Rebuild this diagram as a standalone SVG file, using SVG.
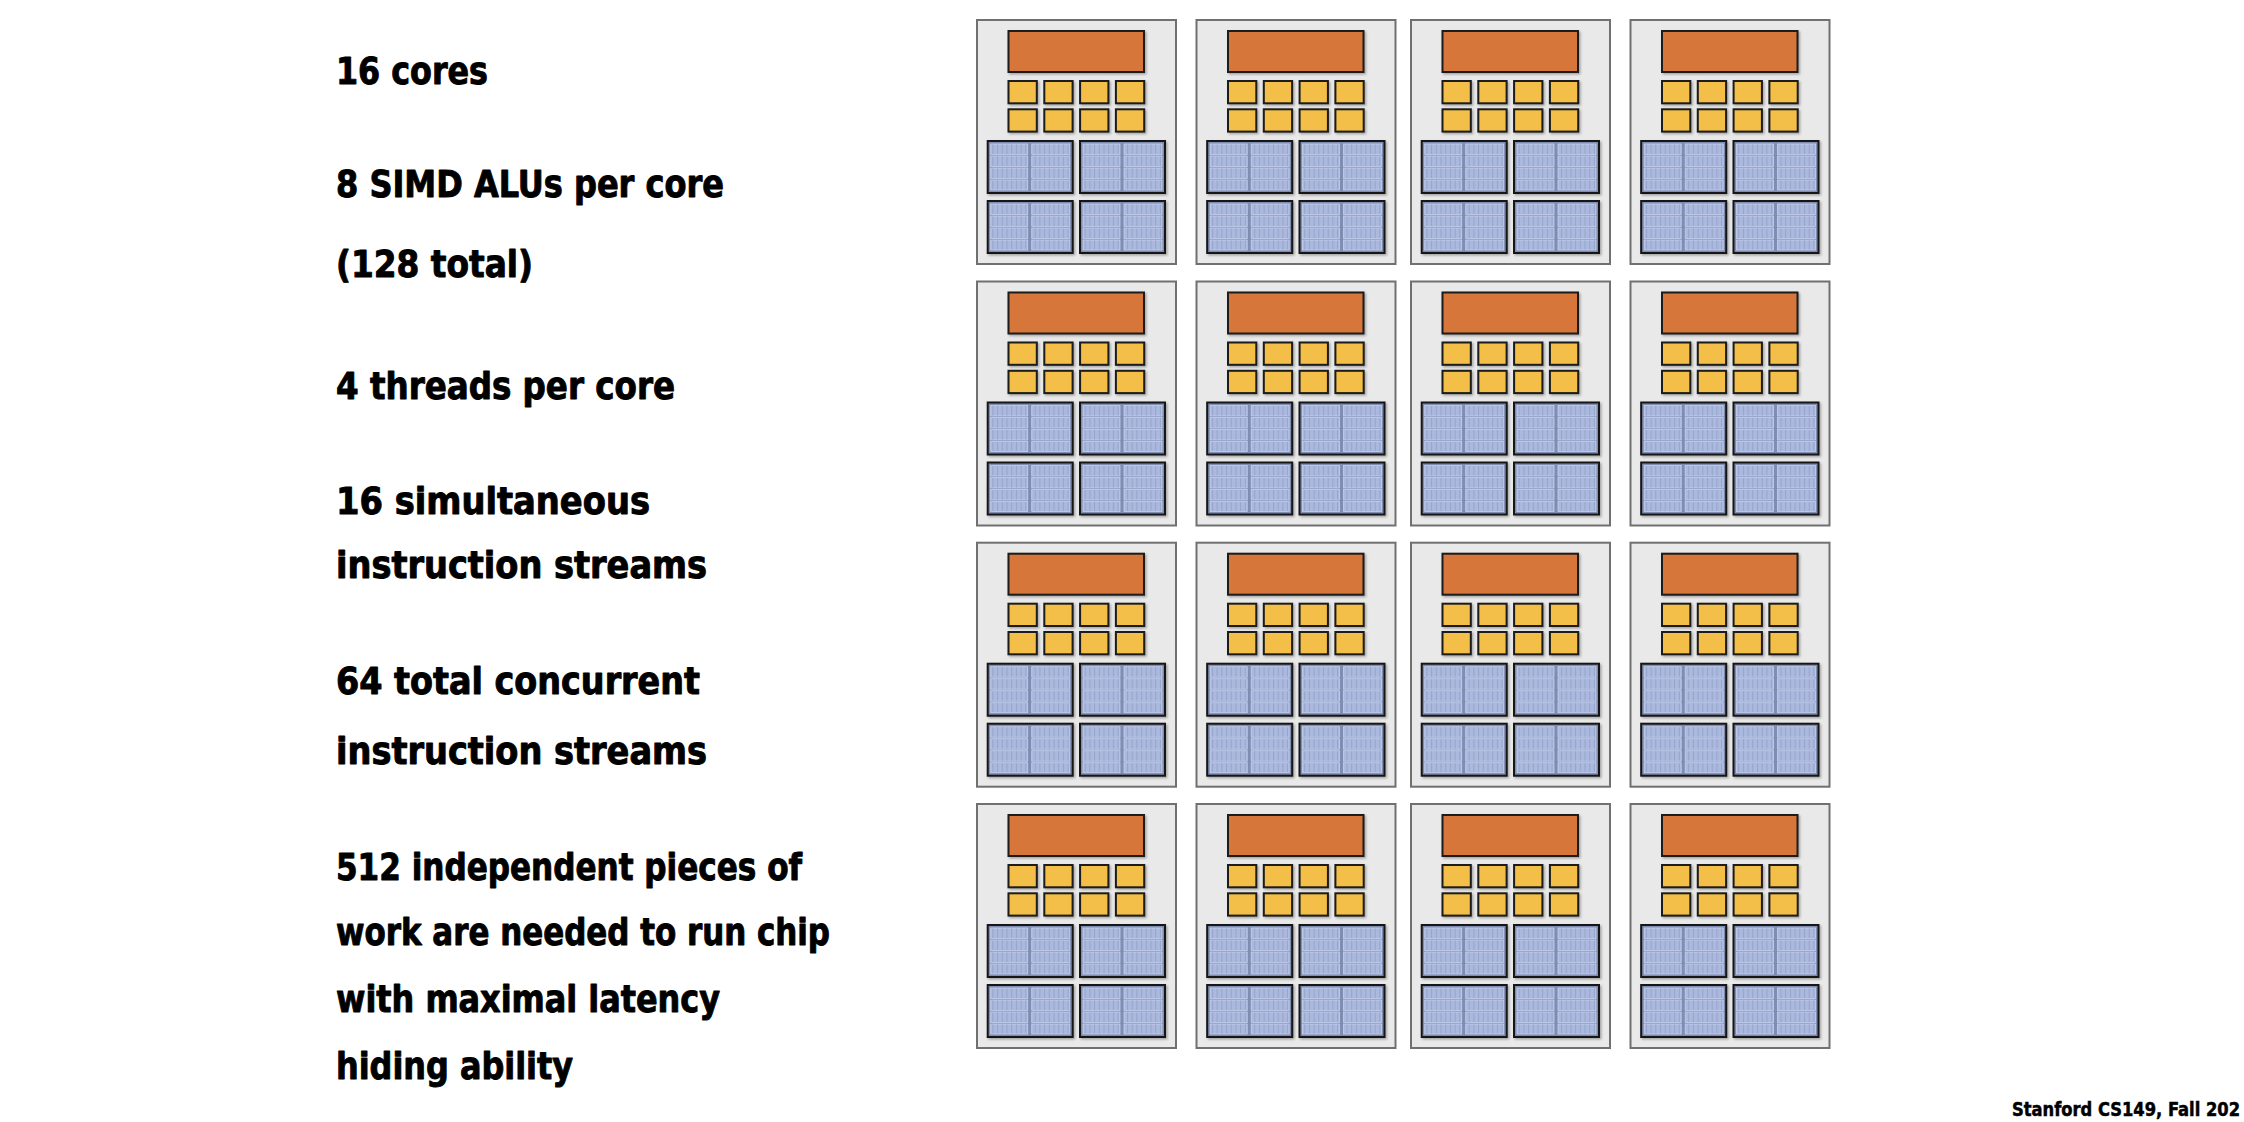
<svg xmlns="http://www.w3.org/2000/svg" xmlns:xlink="http://www.w3.org/1999/xlink" width="2244" height="1122" viewBox="0 0 2244 1122">
  <style>
    .label { font-family: "DejaVu Sans Condensed", "DejaVu Sans", "Liberation Sans", sans-serif; font-stretch: condensed; font-weight: bold; font-size: 38px; fill: #000; stroke: #000; stroke-width: 0.9; stroke-linejoin: round; }
    .footer { font-family: "DejaVu Sans Condensed", "DejaVu Sans", "Liberation Sans", sans-serif; font-stretch: condensed; font-weight: bold; font-size: 16px; fill: #000; stroke: #000; stroke-width: 0.4; }
    .core-frame { fill: #e9e9e9; stroke: #707070; stroke-width: 2; }
    .fetch { fill: #d6763a; stroke: #1a1a1a; stroke-width: 2; }
    .ctx { fill: #f4bf48; stroke: #1a1a1a; stroke-width: 2; }
    .alu { fill: #7f8db3; stroke: #141414; stroke-width: 2; }
    .lane { fill: url(#cells); stroke: #c6d0ee; stroke-width: 0.8; }
  </style>
  <defs>
    <filter id="shadow" x="-10%" y="-10%" width="130%" height="130%">
      <feDropShadow dx="1.5" dy="1.5" stdDeviation="0.8" flood-color="#000" flood-opacity="0.3"/>
    </filter>
    <pattern id="cells" patternUnits="userSpaceOnUse" width="4.7" height="12">
      <rect x="0" y="0" width="4.7" height="12" fill="#abb9de"/>
      <rect x="0" y="0" width="1" height="12" fill="#95a4ca"/>
    </pattern>
    <!-- one SIMD ALU block: two halves of four lanes each -->
    <g id="alu-block">
      <rect class="alu" x="0" y="0" width="85" height="52"/>
      <rect class="lane" x="3" y="3" width="37" height="10.5"/>
      <rect class="lane" x="3" y="15" width="37" height="10.5"/>
      <rect class="lane" x="3" y="27" width="37" height="10.5"/>
      <rect class="lane" x="3" y="39" width="37" height="10"/>
      <rect class="lane" x="44" y="3" width="38" height="10.5"/>
      <rect class="lane" x="44" y="15" width="38" height="10.5"/>
      <rect class="lane" x="44" y="27" width="38" height="10.5"/>
      <rect class="lane" x="44" y="39" width="38" height="10"/>
    </g>
    <!-- one core: fetch/decode, 8 execution contexts, 4 ALU blocks -->
    <g id="core-body">
      <rect class="core-frame" x="0" y="0" width="199" height="244"/>
      <g filter="url(#shadow)">
        <rect class="fetch" x="31.5" y="11" width="135.5" height="41"/>
        <rect class="ctx" x="31.5" y="61" width="28.3" height="22.3"/>
        <rect class="ctx" x="67.3" y="61" width="28.3" height="22.3"/>
        <rect class="ctx" x="103.1" y="61" width="28.3" height="22.3"/>
        <rect class="ctx" x="138.9" y="61" width="28.3" height="22.3"/>
        <rect class="ctx" x="31.5" y="89.3" width="28.3" height="22.3"/>
        <rect class="ctx" x="67.3" y="89.3" width="28.3" height="22.3"/>
        <rect class="ctx" x="103.1" y="89.3" width="28.3" height="22.3"/>
        <rect class="ctx" x="138.9" y="89.3" width="28.3" height="22.3"/>
        <use xlink:href="#alu-block" x="10.7" y="121"/>
        <use xlink:href="#alu-block" x="103" y="121"/>
        <use xlink:href="#alu-block" x="10.7" y="181"/>
        <use xlink:href="#alu-block" x="103" y="181"/>
      </g>
    </g>
  </defs>

  <rect x="0" y="0" width="2244" height="1122" fill="#fff"/>

  <!-- summary text -->
  <g id="summary">
    <text class="label" x="336" y="84" textLength="152" lengthAdjust="spacingAndGlyphs">16 cores</text>
    <text class="label" x="336" y="196.5" textLength="388" lengthAdjust="spacingAndGlyphs">8 SIMD ALUs per core</text>
    <text class="label" x="336" y="277" textLength="197" lengthAdjust="spacingAndGlyphs">(128 total)</text>
    <text class="label" x="336" y="398.5" textLength="339" lengthAdjust="spacingAndGlyphs">4 threads per core</text>
    <text class="label" x="336" y="514" textLength="314" lengthAdjust="spacingAndGlyphs">16 simultaneous</text>
    <text class="label" x="336" y="577.5" textLength="371" lengthAdjust="spacingAndGlyphs">instruction streams</text>
    <text class="label" x="336" y="693.5" textLength="364" lengthAdjust="spacingAndGlyphs">64 total concurrent</text>
    <text class="label" x="336" y="764" textLength="371" lengthAdjust="spacingAndGlyphs">instruction streams</text>
    <text class="label" x="336" y="879.5" textLength="466" lengthAdjust="spacingAndGlyphs">512 independent pieces of</text>
    <text class="label" x="336" y="945" textLength="494" lengthAdjust="spacingAndGlyphs">work are needed to run chip</text>
    <text class="label" x="336" y="1011.5" textLength="384" lengthAdjust="spacingAndGlyphs">with maximal latency</text>
    <text class="label" x="336" y="1078.5" textLength="237" lengthAdjust="spacingAndGlyphs">hiding ability</text>
  </g>

  <!-- 4x4 grid of cores -->
  <g id="core-r0c0" transform="translate(977,20)"><use xlink:href="#core-body"/></g>
  <g id="core-r0c1" transform="translate(1196.5,20)"><use xlink:href="#core-body"/></g>
  <g id="core-r0c2" transform="translate(1411,20)"><use xlink:href="#core-body"/></g>
  <g id="core-r0c3" transform="translate(1630.5,20)"><use xlink:href="#core-body"/></g>
  <g id="core-r1c0" transform="translate(977,281.5)"><use xlink:href="#core-body"/></g>
  <g id="core-r1c1" transform="translate(1196.5,281.5)"><use xlink:href="#core-body"/></g>
  <g id="core-r1c2" transform="translate(1411,281.5)"><use xlink:href="#core-body"/></g>
  <g id="core-r1c3" transform="translate(1630.5,281.5)"><use xlink:href="#core-body"/></g>
  <g id="core-r2c0" transform="translate(977,542.7)"><use xlink:href="#core-body"/></g>
  <g id="core-r2c1" transform="translate(1196.5,542.7)"><use xlink:href="#core-body"/></g>
  <g id="core-r2c2" transform="translate(1411,542.7)"><use xlink:href="#core-body"/></g>
  <g id="core-r2c3" transform="translate(1630.5,542.7)"><use xlink:href="#core-body"/></g>
  <g id="core-r3c0" transform="translate(977,804)"><use xlink:href="#core-body"/></g>
  <g id="core-r3c1" transform="translate(1196.5,804)"><use xlink:href="#core-body"/></g>
  <g id="core-r3c2" transform="translate(1411,804)"><use xlink:href="#core-body"/></g>
  <g id="core-r3c3" transform="translate(1630.5,804)"><use xlink:href="#core-body"/></g>

  <g id="connectors"/>

  <text class="footer" transform="translate(2012,1116) scale(1,1.25)" x="0" y="0" textLength="228" lengthAdjust="spacingAndGlyphs">Stanford CS149, Fall 202</text>
</svg>
